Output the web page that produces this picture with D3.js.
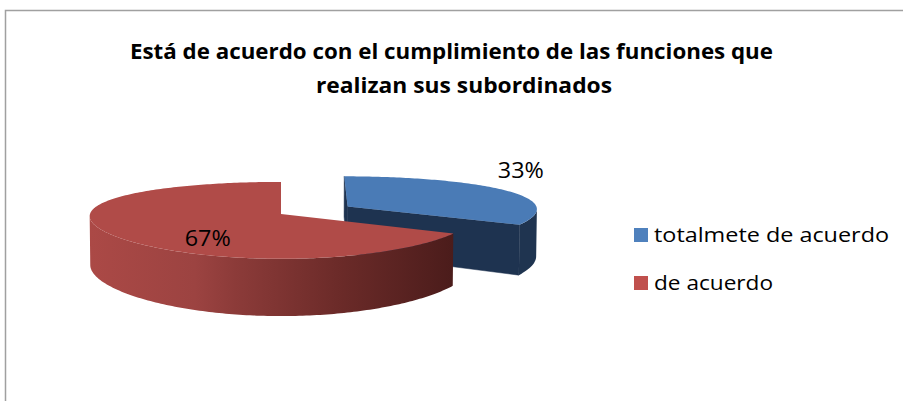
<!DOCTYPE html>
<html>
<head>
<meta charset="utf-8">
<script src="https://cdn.jsdelivr.net/npm/d3@7"></script>
<style>
  body{margin:0;background:#fff;}
  svg{display:block;}
  text{font-family:"Open Sans","Noto Sans",sans-serif;fill:#000;}
</style>
</head>
<body>
<svg id="chart" width="903" height="401"></svg>
<script>
// data
var categories=["totalmete de acuerdo","de acuerdo"];
var values=[33,67];
var pctLabels=["33%","67%"];
var titleLines=["Está de acuerdo con el cumplimiento  de las funciones que","realizan sus subordinados"];

// colours
var topColors=["#4a7bb6","#b04b48"];
var sideColors=["#1f3450",null];   // red side uses gradient
var cutColors=["#1e3350","#8f3b39"];
var legendColors=["#4f81bd","#c0504d"];

// 3d view settings (pie radius units)
var view={cx:281,cy:214,R:191,D:5.93,sinA:0.1958,h:0.26,kx:0.35};
view.cosA=Math.sqrt(1-view.sinA*view.sinA);
var explode=[0.41,0];
var labelR=[1.11,0.44], labelLift=[0.11,-0.08];

var svg=d3.select("#chart");
var defs=svg.append("defs");

// frame
svg.append("rect")
    .attr("x",5.5).attr("y",10.5)
    .attr("width",1000).attr("height",1000)
    .attr("fill","none")
    .attr("stroke","#a0a0a0")
    .attr("stroke-width",1.5);

function proj(u,v,z) {
    var yc=v*view.sinA-z*view.cosA;
    var dep=v*view.cosA+z*view.sinA;
    var p=view.D/(view.D-dep);
    return [view.cx+view.R*u*Math.pow(p,view.kx), view.cy+view.R*yc*p];
}

function area(pts) {
    var s=0;
    for (var i=0;i<pts.length;i++) {
        var a=pts[i], b=pts[(i+1)%pts.length];
        s+=a[0]*b[1]-b[0]*a[1];
    }
    return s/2;
}

var line=d3.line().curve(d3.curveLinearClosed);

var pie=d3.pie().sort(null).value(function(d){return d;});
var arcs=pie(values);

// far slice first
var order=[0,1];
var gStack=svg.append("g");

order.forEach(function(i) {
    var a=arcs[i];
    var mid=(a.startAngle+a.endAngle)/2;
    var eu=explode[i]*Math.sin(mid), ev=-explode[i]*Math.cos(mid);
    var n=Math.max(8,Math.round((a.endAngle-a.startAngle)/(Math.PI/180)));
    var angs=d3.range(n+1).map(function(k){return a.startAngle+(a.endAngle-a.startAngle)*k/n;});
    function rim(phi,z){return proj(eu+Math.sin(phi),ev-Math.cos(phi),z);}
    var apexT=proj(eu,ev,0), apexB=proj(eu,ev,-view.h);
    var g=gStack.append("g");

    // cut faces
    [a.startAngle,a.endAngle].forEach(function(phi,j) {
        var pts=[apexT,rim(phi,0),rim(phi,-view.h),apexB];
        var ar=area(pts);
        if ((j==0 && ar<0) || (j==1 && ar>0)) {
            g.append("path").attr("d",line(pts))
                .attr("fill",cutColors[i]).attr("stroke",cutColors[i]).attr("stroke-width",0.5);
        }
    });

    // outer side: the run of angles whose strip faces the viewer
    var vis=[];
    for (var k=0;k<n;k++) {
        var q=[rim(angs[k],0),rim(angs[k+1],0),rim(angs[k+1],-view.h),rim(angs[k],-view.h)];
        if (area(q)<0) vis.push(k);
    }
    if (vis.length) {
        var sAngs=angs.slice(d3.min(vis),d3.max(vis)+2);
        var sidePts=sAngs.map(function(phi){return rim(phi,0);})
            .concat(sAngs.slice().reverse().map(function(phi){return rim(phi,-view.h);}));
        var fill=sideColors[i];
        if (!fill) {
            var xs=sidePts.map(function(p){return p[0];});
            var grad=defs.append("linearGradient").attr("id","side"+i)
                .attr("gradientUnits","userSpaceOnUse")
                .attr("x1",d3.min(xs)).attr("x2",d3.max(xs)).attr("y1",0).attr("y2",0);
            [[0,"#ab4946"],[0.29,"#9c4341"],[0.4,"#8c3b39"],[0.68,"#6c2b29"],[1,"#4b1c1b"]].forEach(function(s){
                grad.append("stop").attr("offset",s[0]).attr("stop-color",s[1]);
            });
            fill="url(#side"+i+")";
        }
        g.append("path").attr("class","side")
            .attr("d",line(sidePts))
            .attr("fill",fill);
    }

    // top face
    var topPts=[apexT].concat(angs.map(function(phi){return rim(phi,0);}));
    g.append("path").attr("d",line(topPts)).attr("fill",topColors[i]);
});

// data labels
arcs.forEach(function(a,i) {
    var mid=(a.startAngle+a.endAngle)/2;
    var eu=explode[i]*Math.sin(mid), ev=-explode[i]*Math.cos(mid);
    var p=proj(eu+labelR[i]*Math.sin(mid),ev-labelR[i]*Math.cos(mid),labelLift[i]);
    svg.append("text")
        .attr("x",p[0]).attr("y",p[1]+8)
        .attr("text-anchor","middle")
        .attr("font-size",22)
        .attr("textLength",46).attr("lengthAdjust","spacingAndGlyphs")
        .text(pctLabels[i]);
});

// title
var titleX=[130,316], titleW=[643,296], titleY=[59,93];
titleLines.forEach(function(t,i) {
    svg.append("text")
        .attr("x",titleX[i]).attr("y",titleY[i])
        .attr("font-size",22).attr("font-weight","bold")
        .attr("textLength",titleW[i]).attr("lengthAdjust","spacingAndGlyphs")
        .text(t);
});

// legend
var legendY=d3.scalePoint().domain(categories).range([235,283]);
var legendW=[235,119];
var lg=svg.append("g").selectAll("g").data(categories).enter().append("g")
    .attr("transform",function(d){return "translate(634,"+legendY(d)+")";});
lg.append("rect").attr("x",0).attr("y",-7).attr("width",14).attr("height",14)
    .attr("fill",function(d,i){return legendColors[i];});
lg.append("text").attr("x",20).attr("y",7)
    .attr("font-size",20)
    .attr("textLength",function(d,i){return legendW[i];}).attr("lengthAdjust","spacingAndGlyphs")
    .text(function(d){return d;});
</script>
</body>
</html>
